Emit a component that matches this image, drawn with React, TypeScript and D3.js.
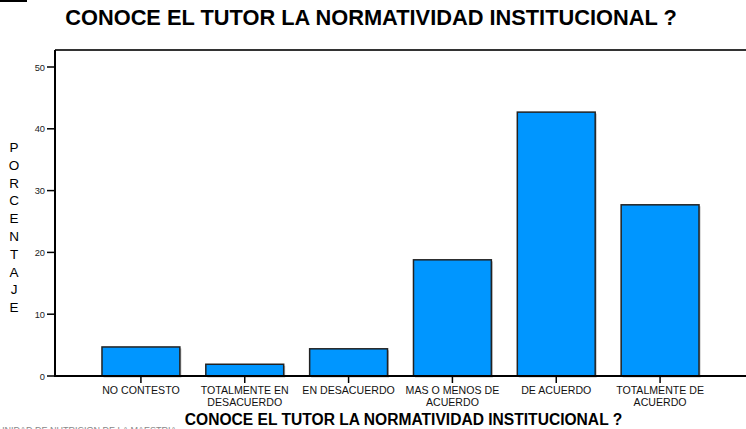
import React from "react";
import * as d3 from "d3";

const categories = [
  ["NO CONTESTO"],
  ["TOTALMENTE EN", "DESACUERDO"],
  ["EN DESACUERDO"],
  ["MAS O MENOS DE", "ACUERDO"],
  ["DE ACUERDO"],
  ["TOTALMENTE DE", "ACUERDO"],
];
const values = [4.7, 1.9, 4.4, 18.8, 42.7, 27.7];
const yTicks = [0, 10, 20, 30, 40, 50];
const title = "CONOCE EL TUTOR LA NORMATIVIDAD INSTITUCIONAL ?";
const yLabel = "PORCENTAJE";

const W = 746;
const H = 429;

const App = () => {
  const keys = categories.map((c) => c.join(" "));
  const x = d3
    .scaleBand()
    .domain(keys)
    .range([89, 712])
    .paddingInner(0.25)
    .paddingOuter(0.125);
  const y = d3.scaleLinear().domain([0, 50]).range([376, 67]);
  const font = "'Liberation Sans', Arial, sans-serif";

  return (
    <svg
      width={W}
      height={H}
      style={{ position: "absolute", left: 0, top: 0, background: "#fff" }}
      fontFamily={font}
    >
      <line x1={0} x2={27} y1={1} y2={1} stroke="#000" strokeWidth={2} />
      <text x={371} y={25} textAnchor="middle" fontSize={21.8} fontWeight="bold">
        {title}
      </text>

      {/* frame */}
      <line x1={55} x2={W} y1={50} y2={50} stroke="#333" strokeWidth={2} />
      <line x1={55} x2={55} y1={50} y2={377} stroke="#000" strokeWidth={2} />

      {/* bars */}
      {keys.map((k, i) => (
        <g key={k}>
          <rect
            x={x(k)! + 1.5}
            y={y(values[i]) + 1.5}
            width={x.bandwidth()}
            height={y(0) - y(values[i])}
            fill="#bbb"
          />
          <rect
            x={x(k)}
            y={y(values[i])}
            width={x.bandwidth()}
            height={y(0) - y(values[i])}
            fill="#0096ff"
            stroke="#222"
            strokeWidth={1.5}
          />
        </g>
      ))}

      <line x1={55} x2={W} y1={376} y2={376} stroke="#000" strokeWidth={2} />

      {/* y axis ticks */}
      {yTicks.map((t) => (
        <g key={t}>
          <line x1={47} x2={55} y1={y(t)} y2={y(t)} stroke="#000" strokeWidth={1.5} />
          <text x={45} y={y(t) + 3.5} textAnchor="end" fontSize={9.3} fill="#222">
            {t}
          </text>
        </g>
      ))}

      {/* x axis ticks & labels */}
      {keys.map((k, i) => {
        const cx = x(k)! + x.bandwidth() / 2;
        return (
          <g key={k}>
            <line x1={cx} x2={cx} y1={376} y2={383} stroke="#000" strokeWidth={1.5} />
            {categories[i].map((line, j) => (
              <text
                key={j}
                x={cx}
                y={394 + j * 12}
                textAnchor="middle"
                fontSize={10.6}
                fill="#111"
              >
                {line}
              </text>
            ))}
          </g>
        );
      })}

      {/* y label stacked */}
      {yLabel.split("").map((ch, i) => (
        <text key={i} x={14} y={152 + i * 17.8} textAnchor="middle" fontSize={13.5}>
          {ch}
        </text>
      ))}

      <text x={403.5} y={425} textAnchor="middle" fontSize={15.6} fontWeight="bold">
        {title}
      </text>

      <text x={-2} y={433} fontSize={9} fill="#888">
        UNIDAD DE NUTRICION DE LA MAESTRIA
      </text>
    </svg>
  );
};

export default App;
